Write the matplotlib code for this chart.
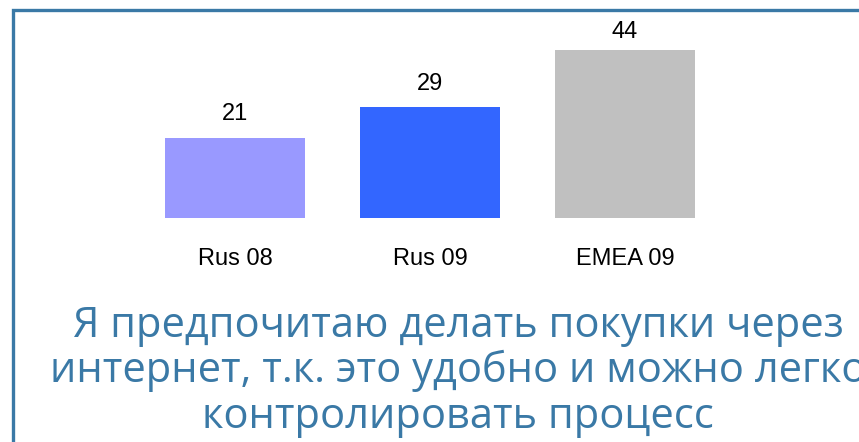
import matplotlib.pyplot as plt
from matplotlib.patches import Rectangle

categories = ["Rus 08", "Rus 09", "EMEA 09"]
values = [21, 29, 44]
bar_colors = ["#9999FF", "#3366FF", "#C0C0C0"]
caption_lines = ["Я предпочитаю делать покупки через",
                 "интернет, т.к. это удобно и можно легко",
                 "контролировать процесс"]

W, H = 859, 442
fig = plt.figure(figsize=(W / 100, H / 100), dpi=100)
fig.patch.set_facecolor("white")

# frame around the slide content (runs off right and bottom)
fig.patches.append(Rectangle((13 / W, -0.05), 1.0, 1 - 9.5 / H + 0.05,
                             transform=fig.transFigure, fill=False,
                             edgecolor="#3A79A6", linewidth=2.4, zorder=0))

# bar axes: x from 137.5 to 722.5 px, baseline at y=217 px, 3.8 px per unit
ax = fig.add_axes([137.5 / W, 1 - 217.5 / H, 585 / W, 190 / H])
x = range(len(categories))
bars = ax.bar(x, values, width=0.72, color=bar_colors)
ax.set_xlim(-0.5, 2.5)
ax.set_ylim(0, 50)
ax.axis("off")

# value labels sit above the bars, but the top one is kept inside the plot area
for b, v in zip(bars, values):
    ax.text(b.get_x() + b.get_width() / 2, min(v + 4.6, 47.2), str(v),
            ha="center", va="baseline", fontsize=17, family="Liberation Sans")
for i, c in enumerate(categories):
    ax.text(i, -12.6, c, ha="center", va="baseline", fontsize=17,
            family="Liberation Sans")

# caption, one line at a time (baselines at 337, 382, 428 px)
for line, y in zip(caption_lines, [337, 382, 428]):
    fig.text(458 / W, 1 - y / H, line, ha="center", va="baseline",
             fontsize=30, color="#3A79A6", family="Open Sans")

fig.savefig("out.png", dpi=100)
